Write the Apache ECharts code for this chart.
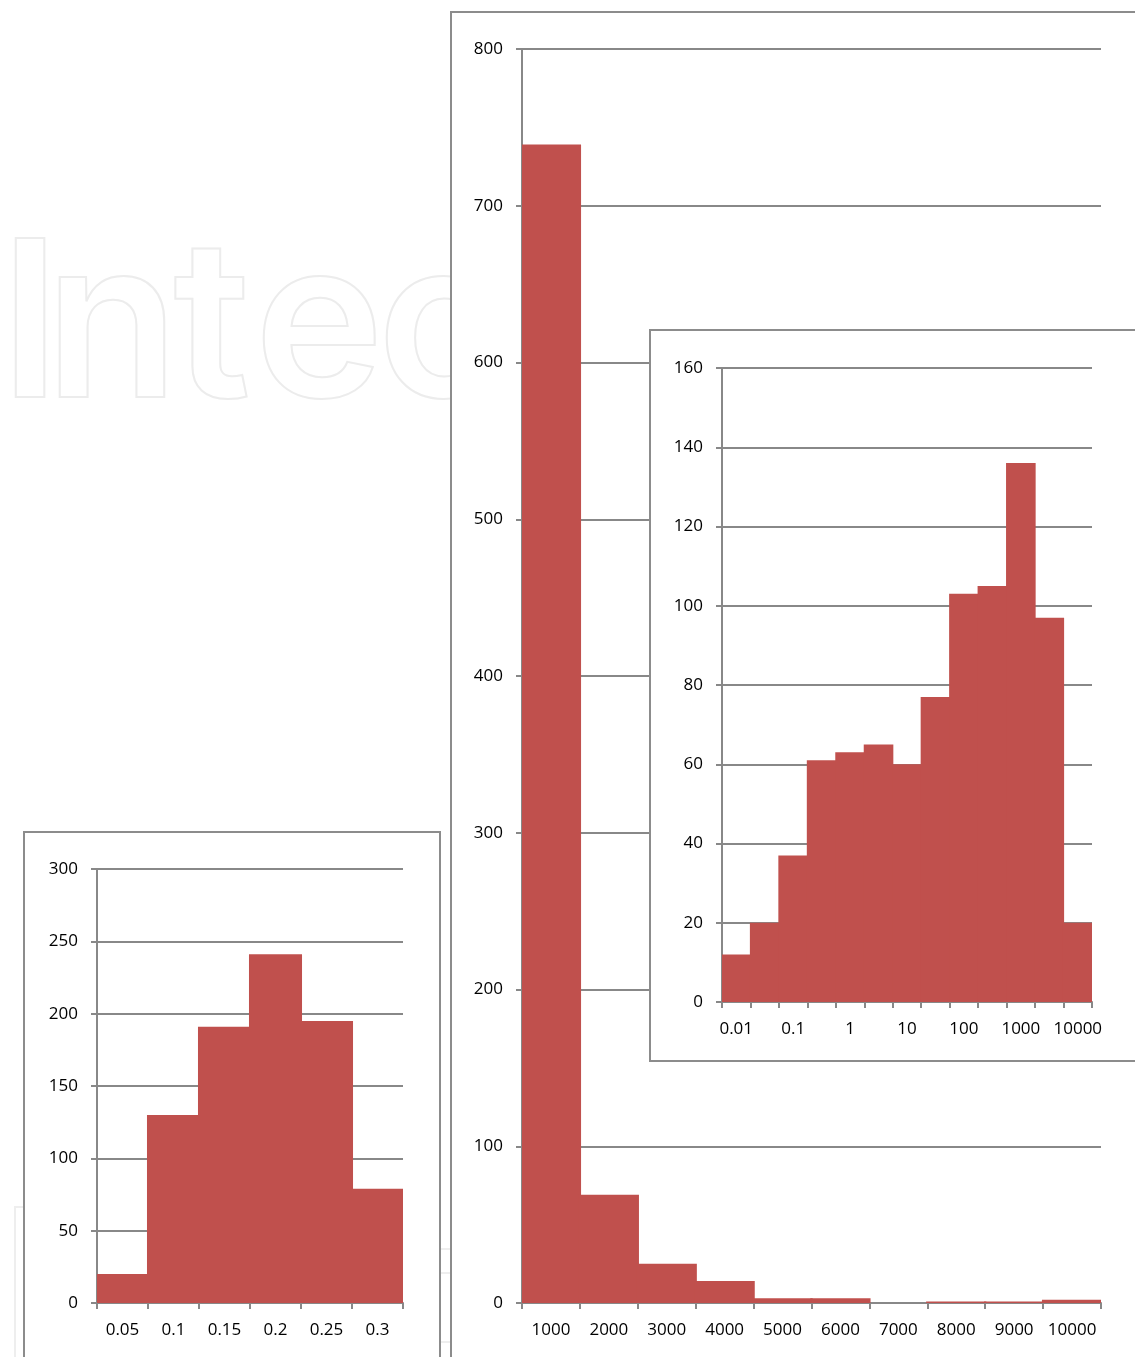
<!DOCTYPE html>
<html>
<head>
<meta charset="utf-8">
<script src="https://cdn.jsdelivr.net/npm/echarts@6/dist/echarts.min.js"></script>
<style>
  html, body { margin: 0; padding: 0; background: #ffffff; }
  #chart { width: 1135px; height: 1357px; }
</style>
</head>
<body>
<div id="chart"></div>
<script>
// Main histogram: counts per 1000-wide bin
const mainBins = ['1000', '2000', '3000', '4000', '5000', '6000', '7000', '8000', '9000', '10000'];
const mainCounts = [739, 69, 25, 14, 3, 3, 0, 1, 1, 2];

// Inset histogram on logarithmic bins (two bins per decade)
const insetTickLabels = ['0.01', '0.1', '1', '10', '100', '1000', '10000'];
const insetCounts = [12, 20, 37, 61, 63, 65, 60, 77, 103, 105, 136, 97, 20];

// Small histogram
const smallBins = ['0.05', '0.1', '0.15', '0.2', '0.25', '0.3'];
const smallCounts = [20, 130, 191, 241, 195, 79];

// Inset categories: a label on every second bin
const insetBins = insetCounts.map((_, i) => (i % 2 === 0 ? insetTickLabels[i / 2] : ''));

const GRAY = '#888888';
const BAR = '#C0504D';
const FONT = 'Open Sans';

function catAxis(gridIndex, data, z) {
  return {
    type: 'category', gridIndex, data, z,
    axisLine: { show: true, lineStyle: { color: GRAY, width: 2 } },
    axisTick: { show: true, length: 6, interval: 0, lineStyle: { color: GRAY, width: 2 } },
    axisLabel: { interval: 0, margin: 19, color: '#000', fontFamily: FONT, fontSize: 17 },
    splitLine: { show: false }
  };
}
function valAxis(gridIndex, max, interval, z) {
  return {
    type: 'value', gridIndex, min: 0, max, interval, z,
    axisLine: { show: true, lineStyle: { color: GRAY, width: 2 } },
    axisTick: { show: true, length: 6, lineStyle: { color: GRAY, width: 2 } },
    axisLabel: { margin: 19, color: '#000', fontFamily: FONT, fontSize: 17 },
    splitLine: { show: true, lineStyle: { color: GRAY, width: 2 } }
  };
}
// histogram bars: slightly wider than a bin so neighbours meet without seams
function bars(i, data, z) {
  return {
    type: 'bar', xAxisIndex: i, yAxisIndex: i, data, z,
    barWidth: '104%', silent: true, animation: false,
    itemStyle: { color: BAR }
  };
}

// faint outlined lettering in the page background, one glyph at a time
const wmLetters = ['I', 'n', 't', 'e', 'c'];
const wmCenters = [30, 112, 212, 319, 441];
const watermark = wmLetters.map((ch, i) => ({
  type: 'text', z: 0, silent: true,
  style: { x: wmCenters[i], y: 331, text: ch, font: '600 219px Inter',
           align: 'center', verticalAlign: 'middle',
           fill: 'transparent', stroke: '#ececec', lineWidth: 2 }
}));

const chart = echarts.init(document.getElementById('chart'), null, { renderer: 'canvas' });
chart.setOption({
  animation: false,
  grid: [
    { left: 522, top: 49, width: 579, height: 1254 },
    { left: 722, top: 368, width: 370, height: 634 },
    { left: 97, top: 869, width: 306, height: 434 }
  ],
  xAxis: [catAxis(0, mainBins, 2), catAxis(1, insetBins, 5), catAxis(2, smallBins, 2)],
  yAxis: [valAxis(0, 800, 100, 2), valAxis(1, 160, 20, 5), valAxis(2, 300, 50, 2)],
  series: [bars(0, mainCounts, 3), bars(1, insetCounts, 6), bars(2, smallCounts, 3)],
  graphic: { elements: watermark.concat([
    { type: 'rect', z: 0, silent: true,
      shape: { x: 15, y: 1207, width: 40, height: 200 },
      style: { fill: 'transparent', stroke: '#eeeeee', lineWidth: 2 } },
    { type: 'line', z: 0, silent: true, shape: { x1: 441, y1: 1249, x2: 450, y2: 1249 }, style: { stroke: '#eeeeee', lineWidth: 2 } },
    { type: 'line', z: 0, silent: true, shape: { x1: 441, y1: 1273, x2: 450, y2: 1273 }, style: { stroke: '#eeeeee', lineWidth: 2 } },
    { type: 'line', z: 0, silent: true, shape: { x1: 441, y1: 1342, x2: 450, y2: 1342 }, style: { stroke: '#eeeeee', lineWidth: 2 } },
    // chart frames
    { type: 'rect', z: 1, silent: true,
      shape: { x: 451, y: 12, width: 800, height: 1500 },
      style: { fill: '#ffffff', stroke: '#8c8c8c', lineWidth: 2 } },
    { type: 'rect', z: 1, silent: true,
      shape: { x: 24, y: 832, width: 416, height: 600 },
      style: { fill: '#ffffff', stroke: '#8c8c8c', lineWidth: 2 } },
    { type: 'rect', z: 4, silent: true,
      shape: { x: 650, y: 330, width: 600, height: 731 },
      style: { fill: '#ffffff', stroke: '#8c8c8c', lineWidth: 2 } }
  ]) }
});
</script>
</body>
</html>
